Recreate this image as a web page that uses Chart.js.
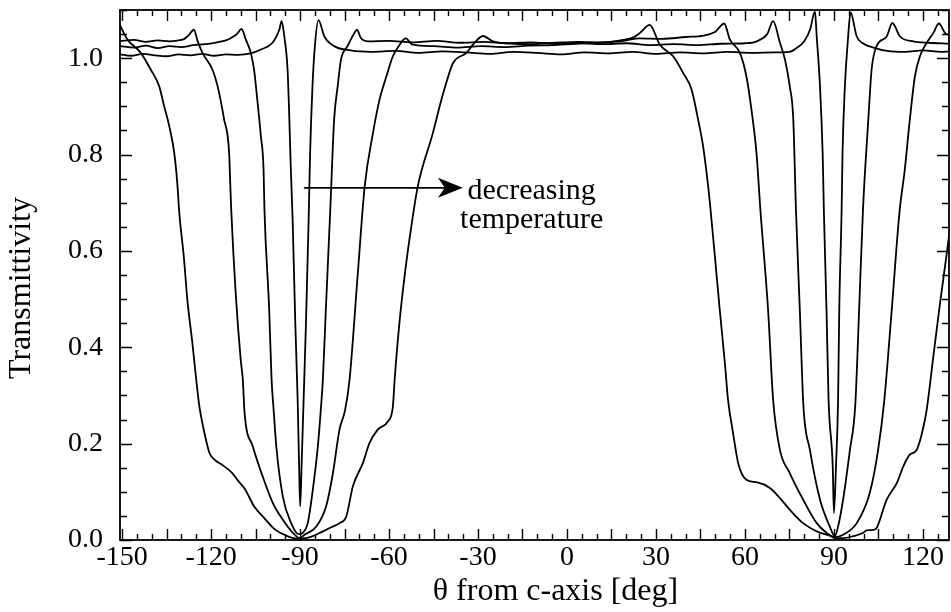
<!DOCTYPE html>
<html>
<head>
<meta charset="utf-8">
<script src="https://cdn.jsdelivr.net/npm/chart.js@4.4.0/dist/chart.umd.min.js"></script>
<style>
    html, body { margin: 0; padding: 0; background: #fff; }
    #chart { display: block; }
</style>
</head>
<body>
<canvas id="chart" width="951" height="612"></canvas>
<script>
// ========== DATA ==========
const xTickValues = [-150, -120, -90, -60, -30, 0, 30, 60, 90, 120];
const yTickValues = [0, 0.2, 0.4, 0.6, 0.8, 1.0];

// narrowest dip (highest temperature)
const c1Theta = [-150.7, -147, -143, -139, -135, -131, -127, -123, -119, -115, -111, -106.6, -103.2, -99.3, -97.0, -96.2, -95.3, -94.2, -93.6, -93.1, -92.5, -91.6, -90.8, -90.3, -89.95, -89.5, -88.8, -88.0, -87.1, -86.6, -85.8, -85.0, -83.8, -81.8, -78.5, -72.9, -66, -58, -50, -42, -34, -26, -18, -10, -2, 6, 14, 22, 30, 38, 46, 54, 62, 70, 75, 77.4, 80, 82, 83.6, 84.2, 85.3, 86.2, 86.6, 87.5, 88.2, 89.6, 90.0, 90.7, 91.4, 91.8, 92.6, 92.9, 93.7, 94.8, 95.6, 97.7, 100, 103.3, 108, 114, 120, 126, 129];
const c1T = [1.008, 1.005, 1.009, 1.006, 1.004, 1.008, 1.006, 1.009, 1.005, 1.008, 1.007, 1.01, 1.018, 1.032, 1.059, 1.077, 1.045, 0.976, 0.873, 0.769, 0.665, 0.45, 0.29, 0.15, 0.07, 0.15, 0.29, 0.45, 0.665, 0.803, 0.942, 1.025, 1.079, 1.045, 1.025, 1.016, 1.013, 1.015, 1.011, 1.014, 1.012, 1.009, 1.013, 1.011, 1.008, 1.012, 1.010, 1.013, 1.009, 1.012, 1.010, 1.013, 1.011, 1.012, 1.013, 1.021, 1.035, 1.06, 1.097, 1.045, 0.942, 0.803, 0.686, 0.478, 0.29, 0.153, 0.056, 0.153, 0.29, 0.478, 0.686, 0.803, 0.942, 1.045, 1.095, 1.045, 1.03, 1.022, 1.015, 1.013, 1.016, 1.013, 1.014];

const c2Theta = [-150.7, -146, -142, -138, -134, -130, -126, -122, -118, -115, -113.3, -111.3, -109.7, -108.3, -106.6, -105.5, -104.3, -103.2, -102.3, -102.0, -100.4, -99.6, -98.9, -98.0, -95.8, -93.0, -90.5, -89.1, -87.4, -85.7, -84.0, -83.0, -82.3, -81.3, -79.8, -78.5, -77.3, -76.2, -74.0, -71.7, -70.8, -69.5, -67, -60, -52, -44, -36, -28, -20, -12, -4, 4, 12, 20, 28, 36, 44, 52, 60, 64, 67.5, 69.5, 71.8, 73.5, 75.1, 76.3, 77.2, 78.5, 79.7, 81.9, 85.3, 88.6, 90.3, 91.4, 93.1, 95.4, 97.2, 98.5, 99.8, 101.6, 102.7, 104.4, 107.8, 109.7, 112.3, 116.8, 122, 129];
const c2T = [1.025, 1.022, 1.026, 1.021, 1.025, 1.023, 1.027, 1.029, 1.033, 1.037, 1.042, 1.05, 1.061, 1.039, 1.011, 0.976, 0.907, 0.838, 0.769, 0.686, 0.478, 0.333, 0.27, 0.194, 0.09, 0.035, 0.012, 0.015, 0.035, 0.104, 0.194, 0.27, 0.333, 0.478, 0.686, 0.873, 0.942, 0.997, 1.025, 1.052, 1.059, 1.042, 1.035, 1.036, 1.033, 1.036, 1.032, 1.034, 1.031, 1.033, 1.030, 1.032, 1.029, 1.031, 1.027, 1.029, 1.027, 1.030, 1.031, 1.035, 1.05, 1.077, 1.032, 0.997, 0.942, 0.873, 0.686, 0.478, 0.28, 0.187, 0.084, 0.028, 0.008, 0.028, 0.084, 0.187, 0.28, 0.478, 0.686, 0.873, 0.976, 1.025, 1.045, 1.073, 1.045, 1.035, 1.032, 1.03];

const c3Theta = [-150.7, -146, -142, -138, -134, -131, -129, -127.5, -125.8, -124.5, -122.9, -119.5, -117.8, -115.6, -113.9, -113.5, -113.2, -111.7, -110.0, -109.3, -108.7, -105.9, -102.6, -99.2, -95.8, -92.4, -90.2, -88.5, -84.5, -81.2, -78.9, -76.7, -74.8, -73.3, -70.6, -68.2, -65.4, -63.2, -60.9, -58.7, -56.4, -54.4, -52, -45, -37, -29, -21, -13, -5, 3, 11, 19, 24.5, 32, 40, 46, 50, 53, 54.9, 58.3, 60.5, 62.2, 63.9, 65.2, 67.8, 69.5, 71.8, 75.1, 79.6, 84.2, 87.5, 90.3, 93.1, 97.7, 102.1, 104.9, 107.0, 109.5, 112.1, 113.9, 115.6, 117.3, 119.0, 121.3, 123.5, 125.4, 127.5, 129];
const c3T = [1.035, 1.038, 1.034, 1.037, 1.035, 1.037, 1.04, 1.048, 1.059, 1.035, 1.011, 0.976, 0.942, 0.873, 0.803, 0.734, 0.686, 0.513, 0.374, 0.333, 0.264, 0.194, 0.132, 0.077, 0.042, 0.015, 0.004, 0.011, 0.028, 0.07, 0.139, 0.229, 0.27, 0.333, 0.547, 0.734, 0.845, 0.914, 0.962, 1.004, 1.028, 1.041, 1.028, 1.025, 1.022, 1.025, 1.023, 1.026, 1.027, 1.03, 1.032, 1.036, 1.041, 1.04, 1.044, 1.047, 1.055, 1.072, 1.039, 1.011, 0.962, 0.893, 0.803, 0.686, 0.478, 0.291, 0.187, 0.139, 0.084, 0.035, 0.015, 0.006, 0.011, 0.035, 0.098, 0.187, 0.291, 0.478, 0.68, 0.769, 0.873, 0.962, 1.004, 1.032, 1.052, 1.072, 1.052, 1.048];

// widest dip (lowest temperature)
const c4Theta = [-150.7, -148.2, -143.7, -140.3, -137.5, -135.8, -134.1, -132.4, -131.3, -130.8, -129.1, -128.0, -126.3, -125.0, -124.0, -122.5, -120.5, -118.5, -116.5, -113, -110.5, -108.5, -105.5, -102, -98.5, -95, -91, -88, -85.7, -82.3, -78.9, -76.7, -74.4, -72.2, -68.8, -66.6, -63.8, -60.4, -58.7, -58.1, -56.5, -54.5, -52.5, -50.3, -45.2, -42.5, -40.7, -38.4, -33.9, -31.7, -28.3, -25, -20, -12, -4, 4, 12, 18, 22, 24.5, 27.9, 31.3, 35.8, 39.2, 42, 44.2, 45.9, 47.6, 48.4, 50, 51.5, 53.2, 54.3, 56.0, 57.7, 60.5, 63.9, 68.4, 71.8, 75.1, 79.6, 84.2, 88.6, 90.3, 93.1, 96.5, 99.9, 101, 103.3, 104.4, 107.8, 111.2, 113.4, 115.6, 117.9, 120.7, 121.5, 123.5, 125.5, 127.5, 129];
const c4T = [1.068, 1.039, 1.011, 0.976, 0.942, 0.9, 0.859, 0.803, 0.734, 0.686, 0.582, 0.499, 0.409, 0.333, 0.28, 0.23, 0.18, 0.165, 0.157, 0.14, 0.12, 0.105, 0.07, 0.045, 0.022, 0.01, 0.003, 0.004, 0.008, 0.018, 0.028, 0.035, 0.049, 0.111, 0.16, 0.201, 0.229, 0.246, 0.277, 0.333, 0.45, 0.56, 0.65, 0.734, 0.845, 0.91, 0.949, 0.99, 1.011, 1.028, 1.046, 1.035, 1.031, 1.029, 1.032, 1.034, 1.033, 1.037, 1.042, 1.052, 1.069, 1.028, 1.004, 0.969, 0.935, 0.873, 0.817, 0.734, 0.686, 0.58, 0.478, 0.37, 0.291, 0.222, 0.16, 0.125, 0.12, 0.108, 0.087, 0.063, 0.035, 0.018, 0.009, 0.004, 0.004, 0.008, 0.015, 0.02, 0.021, 0.025, 0.084, 0.118, 0.153, 0.177, 0.187, 0.25, 0.28, 0.38, 0.478, 0.57, 0.64];

// ========== LOOK ==========
const FONT = '"Liberation Serif", "Times New Roman", serif';
const INK = '#000';
const X_MIN = -150.7, X_MAX = 128.8;
const Y_MIN = 0, Y_MAX = 1.1;

function zip(xs, ys) {
    return xs.map((x, i) => ({ x: x, y: ys[i] }));
}

function curve(xs, ys) {
    return {
        data: zip(xs, ys),
        borderColor: INK,
        borderWidth: 1.8,
        pointRadius: 0,
        cubicInterpolationMode: 'monotone',
        fill: false
    };
}

// ========== FRAME + INWARD TICKS + TITLES + ARROW ==========
const framePlugin = {
    id: 'frame',
    afterDatasetsDraw(chart) {
        const { ctx, chartArea: a, scales } = chart;
        const xs = scales.x, ys = scales.y;
        ctx.save();
        ctx.strokeStyle = INK;
        ctx.lineWidth = 1.8;
        ctx.strokeRect(a.left, a.top, a.right - a.left, a.bottom - a.top);

        // x ticks every 5 deg, long every 15
        ctx.lineWidth = 1.4;
        ctx.beginPath();
        for (let v = -150; v <= X_MAX; v += 5) {
            const px = Math.round(xs.getPixelForValue(v)) + 0.5;
            const len = (v % 15 === 0) ? 11 : 6;
            ctx.moveTo(px, a.bottom); ctx.lineTo(px, a.bottom - len);
            ctx.moveTo(px, a.top); ctx.lineTo(px, a.top + len);
        }
        // y ticks every 0.05, long every 0.2
        for (let k = 0; k * 0.05 <= Y_MAX + 1e-9; k++) {
            const py = Math.round(ys.getPixelForValue(k * 0.05)) + 0.5;
            const len = (k % 4 === 0) ? 12 : 7;
            ctx.moveTo(a.left, py); ctx.lineTo(a.left + len, py);
            ctx.moveTo(a.right, py); ctx.lineTo(a.right - len, py);
        }
        ctx.stroke();

        // arrow: decreasing temperature
        const ay = ys.getPixelForValue(0.731);
        const ax0 = xs.getPixelForValue(-88.7);
        const tip = xs.getPixelForValue(-35.1);
        ctx.lineWidth = 1.8;
        ctx.beginPath();
        ctx.moveTo(ax0, ay); ctx.lineTo(tip - 18, ay);
        ctx.stroke();
        ctx.fillStyle = INK;
        ctx.beginPath();
        ctx.moveTo(tip, ay);
        ctx.lineTo(tip - 25, ay - 10);
        ctx.lineTo(tip - 18, ay);
        ctx.lineTo(tip - 25, ay + 10);
        ctx.closePath();
        ctx.fill();

        ctx.font = '30px ' + FONT;
        ctx.textAlign = 'center';
        ctx.textBaseline = 'alphabetic';
        const tx = xs.getPixelForValue(-11.9);
        ctx.fillText('decreasing', tx, ys.getPixelForValue(0.707));
        ctx.fillText('temperature', tx, ys.getPixelForValue(0.648));

        // axis titles
        ctx.font = '32px ' + FONT;
        ctx.fillText('\u03b8 from c-axis [deg]', (a.left + a.right) / 2 + 21, 600);
        ctx.translate(30, 288);
        ctx.rotate(-Math.PI / 2);
        ctx.fillText('Transmittivity', 0, 0);
        ctx.restore();
    }
};

// ========== CHART ==========
new Chart(document.getElementById('chart'), {
    type: 'line',
    data: {
        datasets: [
            curve(c1Theta, c1T),
            curve(c2Theta, c2T),
            curve(c3Theta, c3T),
            curve(c4Theta, c4T)
        ]
    },
    options: {
        responsive: false,
        animation: false,
        devicePixelRatio: 1,
        layout: { padding: { top: 10, right: 2, left: 0, bottom: 0 } },
        plugins: {
            legend: { display: false },
            tooltip: { enabled: false }
        },
        scales: {
            x: {
                type: 'linear',
                min: X_MIN,
                max: X_MAX,
                afterBuildTicks: (scale) => {
                    scale.ticks = xTickValues.map(v => ({ value: v }));
                },
                afterFit: (scale) => {
                    scale.height = 72;
                    scale.paddingLeft = 0;
                    scale.paddingRight = 0;
                },
                grid: { display: false, drawTicks: false },
                border: { display: false },
                ticks: {
                    color: INK,
                    padding: 1,
                    maxRotation: 0,
                    autoSkip: false,
                    font: { family: FONT, size: 28 },
                    callback: (v) => String(v)
                }
            },
            y: {
                type: 'linear',
                min: Y_MIN,
                max: Y_MAX,
                afterBuildTicks: (scale) => {
                    scale.ticks = yTickValues.map(v => ({ value: v }));
                },
                afterFit: (scale) => {
                    scale.width = 120;
                    scale.paddingTop = 0;
                    scale.paddingBottom = 0;
                },
                grid: { display: false, drawTicks: false },
                border: { display: false },
                ticks: {
                    color: INK,
                    padding: 17,
                    autoSkip: false,
                    font: { family: FONT, size: 28 },
                    callback: (v) => Number(v).toFixed(1)
                }
            }
        }
    },
    plugins: [framePlugin]
});
</script>
</body>
</html>
